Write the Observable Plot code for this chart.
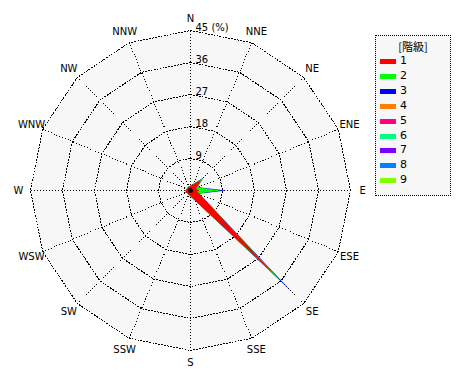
<!DOCTYPE html>
<html>
<head>
<meta charset="utf-8">
<script src="https://cdn.jsdelivr.net/npm/d3@7"></script>
<script src="https://cdn.jsdelivr.net/npm/@observablehq/plot@0.6"></script>
<style>
  html, body { margin: 0; padding: 0; background: #fff; }
  #wrap { position: relative; width: 470px; height: 380px; font-family: "DejaVu Sans", sans-serif; }
  #legend { position: absolute; left: 375px; top: 35px; width: 74px; height: 159px; background: #f7f7f7; border: 1px dotted #000; box-sizing: content-box; }
  #legend .title { position: absolute; left: 0; width: 74px; top: 2px; text-align: center; font-size: 11px; font-family: "Noto Sans CJK JP", sans-serif; color: #000; }
  #legend .row { position: absolute; left: 4px; height: 12px; font-size: 11px; line-height: 12px; color: #000; }
  #legend .sw { position: absolute; left: 0; top: 4px; width: 16px; height: 5px; }
  #legend .lb { position: absolute; left: 20px; top: 0; }
</style>
</head>
<body>
<div id="wrap"></div>
<script>
// ---- data ----
const directions = ["N","NNE","NE","ENE","E","ESE","SE","SSE","S","SSW","SW","WSW","W","WNW","NW","NNW"];
const classes = ["1","2","3","4","5","6","7","8","9"];
const classColors = ["#ff0000","#00ff00","#0000ff","#ff8000","#ff0080","#00ff80","#8000ff","#0080ff","#80ff00"];
const ringValues = [9, 18, 27, 36, 45];
const ringLabels = ["9", "18", "27", "36", "45 (%)"];
// percentage per direction, one array per class
const class1 = [0.3, 0.5, 4.2, 1.0, 2.5, 1.0, 33.0, 1.5, 0.3, 0.3, 0.5, 1.5, 1.5, 0.5, 0.5, 0.3];
const class2 = [0.0, 0.2, 0.8, 1.5, 6.0, 0.5, 3.2, 0.3, 0.0, 0.0, 0.0, 0.2, 0.2, 0.0, 0.0, 0.0];
const class3 = [0.0, 0.0, 0.2, 0.3, 1.5, 0.2, 4.0, 0.0, 0.0, 0.0, 0.0, 0.0, 0.0, 0.0, 0.0, 0.0];
const class4 = [0,0,0,0,0,0,0,0,0,0,0,0,0,0,0,0];
const class5 = [0,0,0,0,0,0,0,0,0,0,0,0,0,0,0,0];
const class6 = [0,0,0,0,0,0,0,0,0,0,0,0,0,0,0,0];
const class7 = [0,0,0,0,0,0,0,0,0,0,0,0,0,0,0,0];
const class8 = [0,0,0,0,0,0,0,0,0,0,0,0,0,0,0,0];
const class9 = [0,0,0,0,0,0,0,0,0,0,0,0,0,0,0,0];
const classValues = [class1, class2, class3, class4, class5, class6, class7, class8, class9];

// ---- geometry helpers ----
const maxR = 45;
const labelR = 48.4;
const halfBase = 1.2; // petal half-width at the centre, in % units
const ang = i => i * Math.PI / 8;

// ring polygons
const ringPts = [];
ringValues.forEach(r => {
  for (let k = 0; k <= 16; k++) {
    ringPts.push({ring: r, x: r * Math.sin(ang(k % 16)), y: r * Math.cos(ang(k % 16))});
  }
});
const bgPts = ringPts.filter(d => d.ring === maxR);

// spokes
const spokes = directions.map((d, i) => ({x2: maxR * Math.sin(ang(i)), y2: maxR * Math.cos(ang(i))}));

// petals: cumulative triangles
const petalLayers = [];
classes.forEach((c, ci) => {
  const pts = [];
  directions.forEach((d, i) => {
    let cum = 0;
    for (let k = 0; k <= ci; k++) cum += classValues[k][i];
    if (classValues[ci][i] <= 0 || cum <= 0) return;
    const t = ang(i);
    const ux = Math.sin(t), uy = Math.cos(t);
    const px = Math.cos(t), py = -Math.sin(t);
    const key = d + "-" + c;
    pts.push({key, cls: c, x: px * halfBase, y: py * halfBase});
    pts.push({key, cls: c, x: ux * cum, y: uy * cum});
    pts.push({key, cls: c, x: -px * halfBase, y: -py * halfBase});
  });
  petalLayers.push(pts);
});

const marks = [
  Plot.line(bgPts, {x: "x", y: "y", fill: "#f7f7f7", stroke: "none"}),
  Plot.line(ringPts, {x: "x", y: "y", z: "ring", stroke: "#000", strokeWidth: 1, strokeDasharray: "1,2", shapeRendering: "crispEdges"}),
  Plot.link(spokes, {x1: () => 0, y1: () => 0, x2: "x2", y2: "y2", stroke: "#000", strokeWidth: 1, strokeDasharray: "1,2", shapeRendering: "crispEdges"})
];
for (let ci = classes.length - 1; ci >= 0; ci--) {
  marks.push(Plot.line(petalLayers[ci], {x: "x", y: "y", z: "key", fill: classColors[ci], stroke: "none"}));
}
marks.push(Plot.dot([0], {x: () => 0, y: () => 0, r: 2.5, fill: "#000", stroke: "none"}));
marks.push(Plot.text(directions, {
  x: (d, i) => labelR * Math.sin(ang(i)),
  y: (d, i) => labelR * Math.cos(ang(i)),
  text: d => d, fontSize: 10, fill: "#000", fontFamily: "DejaVu Sans"
}));
marks.push(Plot.text(ringValues, {
  x: () => 0, y: r => r, text: (r, i) => ringLabels[i],
  textAnchor: "start", lineAnchor: "bottom", dx: 5, dy: 0, fontSize: 10, fill: "#000", fontFamily: "DejaVu Sans"
}));

const chart = Plot.plot({
  width: 470,
  height: 380,
  margin: 0,
  x: {domain: [-maxR, maxR], range: [30, 350], axis: null},
  y: {domain: [-maxR, maxR], range: [350, 30], axis: null},
  style: {background: "transparent", overflow: "visible"},
  marks
});

const wrap = document.getElementById("wrap");
wrap.appendChild(chart);

// legend
const legend = document.createElement("div");
legend.id = "legend";
const title = document.createElement("div");
title.className = "title";
title.textContent = "[階級]";
legend.appendChild(title);
classes.forEach((c, i) => {
  const row = document.createElement("div");
  row.className = "row";
  row.style.top = (19 + i * 14.9) + "px";
  const sw = document.createElement("div");
  sw.className = "sw";
  sw.style.background = classColors[i];
  const lb = document.createElement("div");
  lb.className = "lb";
  lb.textContent = c;
  row.appendChild(sw);
  row.appendChild(lb);
  legend.appendChild(row);
});
wrap.appendChild(legend);
</script>
</body>
</html>
